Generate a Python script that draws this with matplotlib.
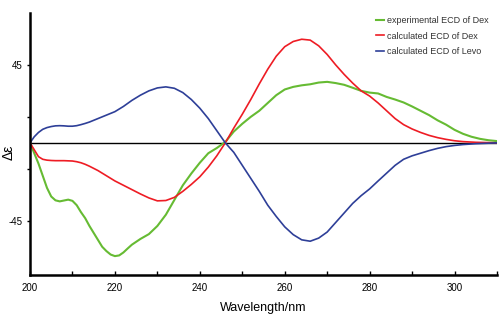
import matplotlib.pyplot as plt

plt.rcParams['font.family'] = ['Liberation Sans', 'DejaVu Sans']

# 实验 ECD (Dex)
wlExp = [200, 201, 202, 203, 204, 205, 206, 207, 208, 209, 210, 211, 212, 213, 214,
         215, 216, 217, 218, 219, 220, 221, 222, 223, 224, 226, 228, 230, 232, 234,
         236, 238, 240, 242, 244, 246, 248, 250, 252, 254, 256, 258, 260, 262, 264,
         266, 268, 270, 272, 274, 276, 278, 280, 282, 284, 286, 288, 290, 292, 294,
         296, 298, 300, 302, 304, 306, 308, 310]
expDex = [0, -6, -12, -19, -26, -31, -33.2, -33.8, -33.3, -32.8, -33.5, -36, -40, -43.5, -48,
          -52, -56, -60, -62.5, -64.5, -65.4, -65, -63.3, -61, -58.8, -55.5, -52.7, -48, -41.5, -33,
          -24.5, -17.7, -11.5, -6, -3, 0.5, 6.5, 11, 15, 18.5, 23, 27.5, 30.8, 32.3, 33.2,
          33.8, 34.8, 35.2, 34.5, 33.5, 31.8, 30, 29, 28.5, 26.5, 25, 23.3, 21, 18.5, 16,
          13, 10.5, 7.5, 5.2, 3.5, 2.3, 1.5, 1]

# 计算 ECD
wlCalc = [200, 201, 202, 203, 204, 205, 206, 207, 208, 209, 210, 211, 212, 213, 214,
          216, 218, 220, 222, 224, 226, 228, 230, 232, 234, 236, 238, 240, 242, 244,
          246, 248, 250, 252, 254, 256, 258, 260, 262, 264, 266, 268, 270, 272, 274,
          276, 278, 280, 282, 284, 286, 288, 290, 292, 294, 296, 298, 300, 302, 305, 310]
calcDex = [0, -4, -8, -9.5, -10, -10.2, -10.3, -10.3, -10.3, -10.4, -10.5, -10.9, -11.5, -12.4, -13.5,
           -16, -19, -22, -24.5, -27, -29.5, -31.8, -33.5, -33.3, -31.5, -28, -24, -19.6, -14, -7.5,
           0, 8.5, 16.5, 25, 34, 42.5, 50, 55.5, 58.5, 59.8, 59.3, 56, 51, 45, 39.5,
           34.5, 30, 27, 23, 18.5, 14, 10.5, 8, 6, 4.3, 3, 2, 1.2, 0.7, 0.3, 0]
calcLevo = [0, 3.5, 6, 7.8, 8.8, 9.4, 9.8, 9.9, 9.8, 9.6, 9.6, 9.9, 10.5, 11.2, 12,
            14, 16, 18, 21, 24.5, 27.5, 30, 31.7, 32.3, 31.5, 29, 25, 20, 14, 7,
            0, -5.5, -13, -20.5, -28, -36, -42.5, -48.5, -53, -56, -56.8, -55, -51.5, -46, -40.5,
            -35, -30.5, -26.6, -22, -17.5, -13, -9.5, -7.5, -6, -4.5, -3.2, -2.2, -1.5, -1, -0.5, 0]

fig = plt.figure(figsize=(5, 3.15), dpi=100)
ax = fig.add_axes([0.06, 0.127, 0.934, 0.832])

ax.axhline(0, color='black', lw=1, zorder=1)
ax.plot(wlExp, expDex, color='#66bb33', lw=1.5, solid_joinstyle='round', label='experimental ECD of Dex')
ax.plot(wlCalc, calcDex, color='#ee1c24', lw=1.2, solid_joinstyle='round', label='calculated ECD of Dex')
ax.plot(wlCalc, calcLevo, color='#2e3f98', lw=1.2, solid_joinstyle='round', label='calculated ECD of Levo')

ax.set_xlim(200, 310)
ax.set_ylim(-76.3, 75)

ax.set_xticks([200, 220, 240, 260, 280, 300])
ax.set_xticks(range(210, 311, 20), minor=True)
ax.set_yticks([-45, 45])
ax.set_yticklabels(['-45', '45'])
ax.set_yticks([-15, 15], minor=True)
ax.tick_params(axis='x', which='both', direction='in', length=3, width=1, labelsize=7, pad=6)
ax.tick_params(axis='y', which='both', direction='out', length=2, width=1, labelsize=7)

for s in ['top', 'right']:
  ax.spines[s].set_visible(False)
ax.spines['left'].set_linewidth(1.8)
ax.spines['bottom'].set_linewidth(1.8)

ax.set_xlabel('Wavelength/nm', fontsize=9, labelpad=6)
ax.set_ylabel('Δε', fontsize=10)
ax.yaxis.set_label_coords(-0.03, 0.47)

ax.legend(loc='upper right', bbox_to_anchor=(1.0, 1.02), frameon=False, fontsize=6.5,
          handlelength=0.8, handletextpad=0.4, labelspacing=0.75, labelcolor='#333333')

plt.savefig('out.png')
